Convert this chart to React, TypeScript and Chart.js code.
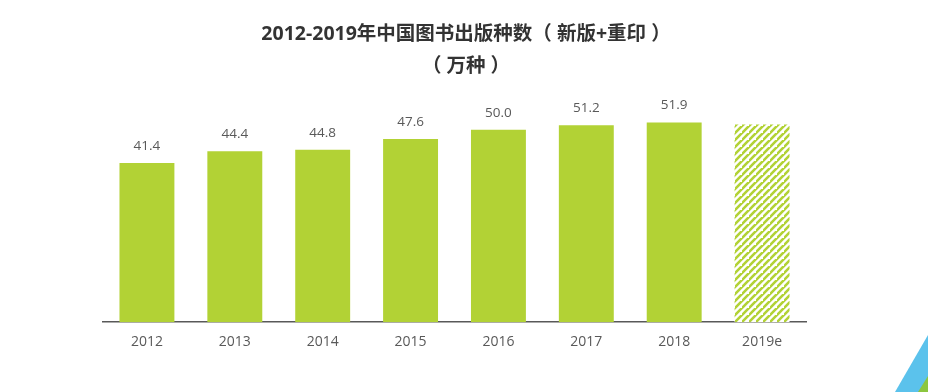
import React, { useEffect, useRef } from "react";
import { Chart, registerables } from "chart.js";

Chart.register(...registerables);

const categories = ["2012", "2013", "2014", "2015", "2016", "2017", "2018", "2019e"];
const values = [41.4, 44.4, 44.8, 47.6, 50.0, 51.2, 51.9, 51.4];
const valueLabels = ["41.4", "44.4", "44.8", "47.6", "50.0", "51.2", "51.9", ""];
const titleLines = ["2012-2019年中国图书出版种数（ 新版+重印 ）", "（ 万种 ）"];

const GREEN = "#b2d235";
const TEXT = "#595959";
const FONT = "'Open Sans', 'Noto Sans CJK SC', sans-serif";

function makeHatch(): CanvasPattern | string {
  const size = 7;
  const c = document.createElement("canvas");
  c.width = size;
  c.height = size;
  const ctx = c.getContext("2d");
  if (!ctx) return GREEN;
  ctx.fillStyle = "#ffffff";
  ctx.fillRect(0, 0, size, size);
  ctx.strokeStyle = GREEN;
  ctx.lineWidth = 2.6;
  ctx.beginPath();
  ctx.moveTo(-1, size + 1);
  ctx.lineTo(size + 1, -1);
  ctx.moveTo(-size - 1, size + 1);
  ctx.lineTo(1, -1);
  ctx.moveTo(size - 1, 2 * size + 1);
  ctx.lineTo(2 * size + 1, size - 1);
  ctx.stroke();
  const p = ctx.createPattern(c, "repeat");
  return p || GREEN;
}

const valueLabelPlugin = {
  id: "valueLabels",
  afterDatasetsDraw(chart: any) {
    const ctx = chart.ctx;
    const meta = chart.getDatasetMeta(0);
    ctx.save();
    ctx.fillStyle = TEXT;
    ctx.font = `13.5px ${FONT}`;
    ctx.textAlign = "center";
    ctx.textBaseline = "middle";
    meta.data.forEach((bar: any, i: number) => {
      const t = valueLabels[i];
      if (t) ctx.fillText(t, bar.x, bar.y - 17);
    });
    ctx.restore();
  },
};

const titlePlugin = {
  id: "customTitle",
  afterDraw(chart: any) {
    const ctx = chart.ctx;
    ctx.save();
    ctx.fillStyle = "#333333";
    ctx.font = `bold 19.5px ${FONT}`;
    ctx.textAlign = "center";
    ctx.textBaseline = "middle";
    titleLines.forEach((t, i) => ctx.fillText(t, 466, 34 + i * 32));
    ctx.restore();
  },
};

const cornerPlugin = {
  id: "corner",
  afterDraw(chart: any) {
    const ctx = chart.ctx;
    const w = chart.width;
    const h = chart.height;
    ctx.save();
    ctx.fillStyle = "#5bc2ec";
    ctx.beginPath();
    ctx.moveTo(w - 33, h);
    ctx.lineTo(w, h - 57);
    ctx.lineTo(w, h);
    ctx.closePath();
    ctx.fill();
    ctx.fillStyle = "#8cc63f";
    ctx.beginPath();
    ctx.moveTo(w - 10, h);
    ctx.lineTo(w, h - 16);
    ctx.lineTo(w, h);
    ctx.closePath();
    ctx.fill();
    ctx.restore();
  },
};

export default function App() {
  const ref = useRef<HTMLCanvasElement | null>(null);
  useEffect(() => {
    document.body.style.margin = "0";
    const canvas = ref.current;
    if (!canvas) return;
    const hatch = makeHatch();
    const bg = values.map((_, i) => (i === values.length - 1 ? hatch : GREEN));
    const chart = new Chart(canvas, {
      type: "bar",
      data: {
        labels: categories,
        datasets: [
          {
            data: values,
            backgroundColor: bg as any,
            borderWidth: 0,
            categoryPercentage: 1,
            barPercentage: 0.625,
          },
        ],
      },
      options: {
        animation: false,
        responsive: false,
        maintainAspectRatio: false,
        layout: { padding: { left: 103, right: 122, top: 99, bottom: 31 } },
        plugins: {
          legend: { display: false },
          tooltip: { enabled: false },
          title: { display: false },
        },
        scales: {
          x: {
            grid: { display: false, drawTicks: false },
            border: { display: true, color: "#595959", width: 1.5 },
            ticks: { color: TEXT, font: { family: FONT, size: 14 }, padding: 11 },
          },
          y: {
            display: false,
            min: 0,
            max: 58,
          },
        },
      },
      plugins: [valueLabelPlugin, titlePlugin, cornerPlugin],
    });
    return () => chart.destroy();
  }, []);
  return (
    <div style={{ width: 928, height: 392, background: "#fff" }}>
      <canvas ref={ref} width={928} height={392} style={{ display: "block" }} />
    </div>
  );
}
